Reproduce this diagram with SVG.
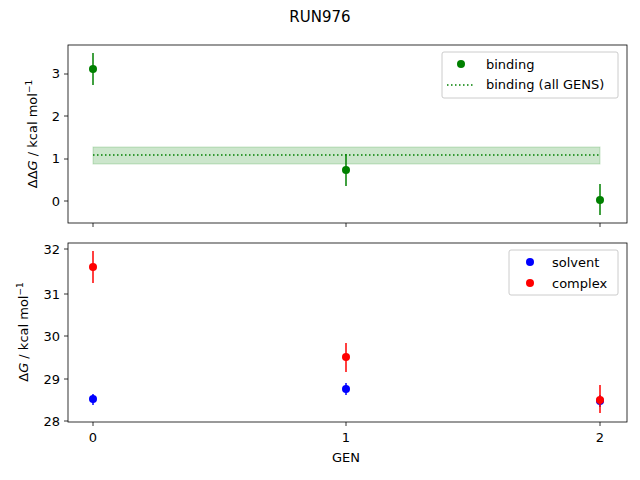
<svg xmlns="http://www.w3.org/2000/svg" width="640" height="480" viewBox="0 0 640 480">
<style>
text{font-family:"DejaVu Sans",sans-serif;font-size:13px;fill:#000}
.ax{fill:none;stroke:#000;stroke-width:0.8}
.tk{stroke:#000;stroke-width:0.8}
.g{fill:#008000}.ge{stroke:#008000;stroke-width:1.5}
.r{fill:#ff0000}.re{stroke:#ff0000;stroke-width:1.5}
.b{fill:#0000ff}.be{stroke:#0000ff;stroke-width:1.5}
.lg{fill:#fff;fill-opacity:0.8;stroke:#ccc;stroke-width:1}
</style>
<rect width="640" height="480" fill="#fff"/>
<text x="320" y="22" text-anchor="middle" style="font-size:15px">RUN976</text>
<g id="top">
<rect x="93" y="147" width="507" height="17" fill="#008000" fill-opacity="0.2" stroke="#008000" stroke-opacity="0.2"/>
<line x1="93" y1="155" x2="600" y2="155" stroke="#008000" stroke-width="1.5" stroke-dasharray="1.5,2.5"/>
<g id="top-points">
<line class="ge" x1="93" y1="53" x2="93" y2="85"/><circle class="g" cx="93" cy="69" r="4"/>
<line class="ge" x1="346" y1="154" x2="346" y2="186"/><circle class="g" cx="346" cy="170" r="4"/>
<line class="ge" x1="600" y1="184" x2="600" y2="215"/><circle class="g" cx="600" cy="200" r="4"/>
</g>
<rect class="ax" x="68" y="45" width="559" height="178"/>
<g class="tk">
<line x1="64" y1="74" x2="68" y2="74"/><line x1="64" y1="116" x2="68" y2="116"/><line x1="64" y1="159" x2="68" y2="159"/><line x1="64" y1="201" x2="68" y2="201"/>
<line x1="93" y1="223" x2="93" y2="227"/><line x1="346" y1="223" x2="346" y2="227"/><line x1="600" y1="223" x2="600" y2="227"/>
</g>
<text x="60" y="78" text-anchor="end">3</text><text x="60" y="121" text-anchor="end">2</text><text x="60" y="163" text-anchor="end">1</text><text x="60" y="206" text-anchor="end">0</text>
<text transform="translate(37,134) rotate(-90)" text-anchor="middle">ΔΔ<tspan font-style="italic">G</tspan> / kcal mol<tspan dy="-5" style="font-size:9px">−1</tspan></text>
<g id="legend-top">
<rect class="lg" x="442" y="52" width="176" height="46" rx="2"/>
<circle class="g" cx="461" cy="64" r="4"/><text x="486" y="69">binding</text>
<line x1="447" y1="85" x2="475" y2="85" stroke="#008000" stroke-width="1.5" stroke-dasharray="1.5,2.5"/><text x="486" y="89">binding (all GENS)</text>
</g>
</g>
<g id="bottom">
<g id="bottom-points">
<line class="be" x1="93" y1="394" x2="93" y2="405"/><circle class="b" cx="93" cy="399" r="4"/>
<line class="be" x1="346" y1="383" x2="346" y2="395"/><circle class="b" cx="346" cy="389" r="4"/>
<line class="be" x1="600" y1="395" x2="600" y2="407"/><circle class="b" cx="600" cy="401" r="4"/>
<line class="re" x1="93" y1="251" x2="93" y2="283"/><circle class="r" cx="93" cy="267" r="4"/>
<line class="re" x1="346" y1="343" x2="346" y2="372"/><circle class="r" cx="346" cy="357" r="4"/>
<line class="re" x1="600" y1="385" x2="600" y2="413"/><circle class="r" cx="600" cy="400" r="4"/>
</g>
<rect class="ax" x="68" y="243" width="559" height="179"/>
<g class="tk">
<line x1="64" y1="249" x2="68" y2="249"/><line x1="64" y1="294" x2="68" y2="294"/><line x1="64" y1="336" x2="68" y2="336"/><line x1="64" y1="379" x2="68" y2="379"/><line x1="64" y1="421" x2="68" y2="421"/>
<line x1="93" y1="422" x2="93" y2="426"/><line x1="346" y1="422" x2="346" y2="426"/><line x1="600" y1="422" x2="600" y2="426"/>
</g>
<text x="60" y="254" text-anchor="end">32</text><text x="60" y="299" text-anchor="end">31</text><text x="60" y="341" text-anchor="end">30</text><text x="60" y="384" text-anchor="end">29</text><text x="60" y="426" text-anchor="end">28</text>
<text x="93" y="442" text-anchor="middle">0</text><text x="346" y="442" text-anchor="middle">1</text><text x="600" y="442" text-anchor="middle">2</text>
<text x="346" y="462" text-anchor="middle">GEN</text>
<text transform="translate(28,332) rotate(-90)" text-anchor="middle">Δ<tspan font-style="italic">G</tspan> / kcal mol<tspan dy="-5" style="font-size:9px">−1</tspan></text>
<g id="legend-bottom">
<rect class="lg" x="509" y="250" width="109" height="45" rx="2"/>
<circle class="b" cx="530" cy="262" r="4"/><text x="552" y="267">solvent</text>
<circle class="r" cx="530" cy="283" r="4"/><text x="552" y="288">complex</text>
</g>
</g>
</svg>
